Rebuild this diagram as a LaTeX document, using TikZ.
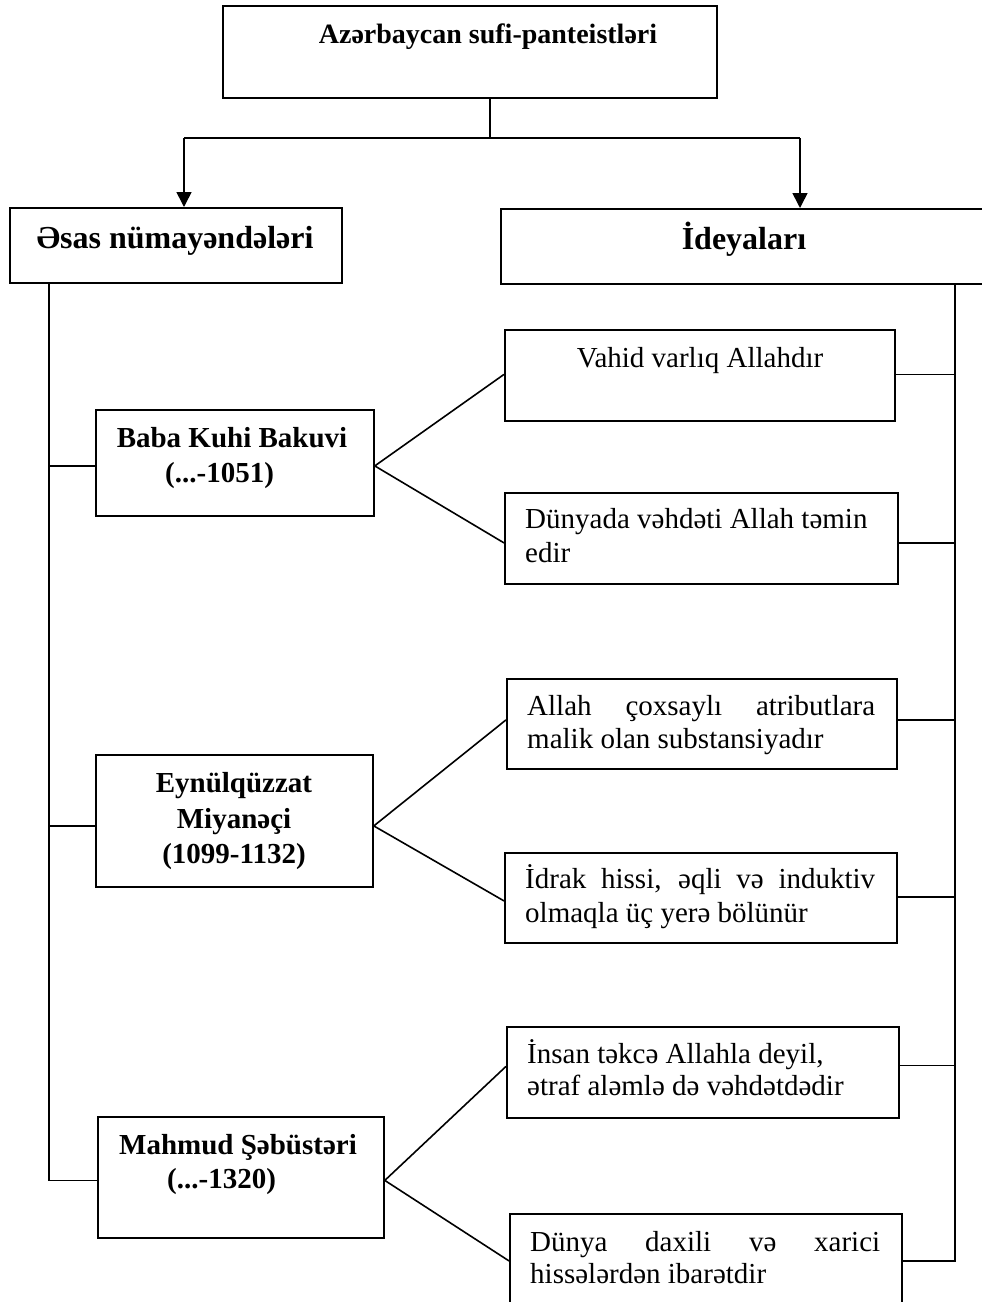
\documentclass[tikz,border=0pt]{standalone}
\usepackage{fontspec}
\setmainfont{Liberation Serif}
\usetikzlibrary{arrows.meta}
\begin{document}
\begin{tikzpicture}[x=1pt,y=-1pt,
  box/.style={draw, line width=1.8pt, inner sep=0pt, anchor=north west},
  conn/.style={line width=1.6pt},
  arr/.style={line width=1.6pt, -{Triangle[length=15pt,width=15pt]}},
  ttl/.style={font=\fontsize{28}{32}\selectfont\bfseries, anchor=base, inner sep=0pt},
  hd/.style={font=\fontsize{32}{36}\selectfont\bfseries, anchor=base, inner sep=0pt},
  nm/.style={font=\fontsize{29}{34}\selectfont\bfseries, anchor=base, inner sep=0pt},
  nmw/.style={font=\fontsize{29}{34}\selectfont\bfseries, anchor=base west, inner sep=0pt},
  tx/.style={font=\fontsize{29}{34}\selectfont, anchor=base west, inner sep=0pt},
  txc/.style={font=\fontsize{29}{34}\selectfont, anchor=base, inner sep=0pt}]
\clip (0,0) rectangle (982,1302);
\fill[white] (0,0) rectangle (982,1302);

% boxes
\node[box, minimum width=494pt, minimum height=92pt] (top) at (222,5) {};
\node[box, minimum width=332pt, minimum height=75pt] (lh) at (9,207) {};
\node[box, minimum width=520pt, minimum height=75pt] (rh) at (500,208) {};
\node[box, minimum width=278pt, minimum height=106pt] (bk) at (95,409) {};
\node[box, minimum width=277pt, minimum height=132pt] (ey) at (95,754) {};
\node[box, minimum width=286pt, minimum height=121pt] (mh) at (97,1116) {};
\node[box, minimum width=390pt, minimum height=91pt] (id1) at (504,329) {};
\node[box, minimum width=393pt, minimum height=91pt] (id2) at (504,492) {};
\node[box, minimum width=390pt, minimum height=90pt] (id3) at (506,678) {};
\node[box, minimum width=392pt, minimum height=90pt] (id4) at (504,852) {};
\node[box, minimum width=392pt, minimum height=91pt] (id5) at (506,1026) {};
\node[box, minimum width=392pt, minimum height=94pt] (id6) at (509,1213) {};

% texts
\node[ttl] (tt) at (488,43) {Azərbaycan sufi-panteistləri};
\node[hd] (lht) at (175,248) {Əsas nümayəndələri};
\node[hd] (rht) at (744,249) {İdeyaları};

\node[nm] (bk1) at (232,447) {Baba Kuhi Bakuvi};
\node[nmw] (bk2) at (165,482) {(...-1051)};
\node[nm] (ey1) at (234,792) {Eynülqüzzat};
\node[nm] (ey2) at (234,828) {Miyanəçi};
\node[nm] (ey3) at (234,863) {(1099-1132)};
\node[nm] (mh1) at (238,1154) {Mahmud Şəbüstəri};
\node[nmw] (mh2) at (167,1188) {(...-1320)};

\node[txc] (i1a) at (700,367) {Vahid varlıq Allahdır};
\node[tx] (i2a) at (525,528) {Dünyada vəhdəti Allah təmin};
\node[tx] (i2b) at (525,562) {edir};
\node[tx] (i3a) at (527,715) {\makebox[348pt][s]{Allah çoxsaylı atributlara}};
\node[tx] (i3b) at (527,748) {malik olan substansiyadır};
\node[tx] (i4a) at (525,888) {\makebox[350pt][s]{İdrak hissi, əqli və induktiv}};
\node[tx] (i4b) at (525,922) {olmaqla üç yerə bölünür};
\node[tx] (i5a) at (527,1063) {İnsan təkcə Allahla deyil,};
\node[tx] (i5b) at (527,1095) {ətraf aləmlə də vəhdətdədir};
\node[tx] (i6a) at (530,1251) {\makebox[350pt][s]{Dünya daxili və xarici}};
\node[tx] (i6b) at (530,1283) {hissələrdən ibarətdir};

% top connectors
\coordinate (j) at (490,138);
\coordinate (jl) at (184,138);
\coordinate (jr) at (800,138);
\draw[conn] (j |- top.south) -- (j);
\draw[conn] (jl) -- (jr);
\draw[arr] (jl) -- (jl |- lh.north);
\draw[arr] (jr) -- (jr |- rh.north);

% left spine
\coordinate (sp) at (49,0);
\coordinate (bkw) at ([yshift=-3pt]bk.west);
\coordinate (eyw) at ([yshift=-5pt]ey.west);
\coordinate (mhw) at ([yshift=-3pt]mh.west);
\draw[conn] (sp |- lh.south) -- (sp |- mhw) -- (mhw);
\draw[conn] (sp |- bkw) -- (bkw);
\draw[conn] (sp |- eyw) -- (eyw);

% fan connectors
\coordinate (bke) at ([yshift=-3pt]bk.east);
\coordinate (eye) at ([yshift=-5pt]ey.east);
\coordinate (mhe) at ([yshift=-3pt]mh.east);
\coordinate (id1w) at ([yshift=1pt]id1.west);
\coordinate (id2w) at ([yshift=-4.5pt]id2.west);
\coordinate (id3w) at ([yshift=4pt]id3.west);
\coordinate (id4w) at ([yshift=-3pt]id4.west);
\coordinate (id5w) at ([yshift=6pt]id5.west);
\draw[conn] (id1w) -- (bke) -- (id2w);
\draw[conn] (id3w) -- (eye) -- (id4w);
\draw[conn] (id5w) -- (mhe) -- (id6.west);

% right spine
\coordinate (rs) at (955,0);
\coordinate (id1e) at ([yshift=1pt]id1.east);
\coordinate (id2e) at ([yshift=-4.5pt]id2.east);
\coordinate (id3e) at ([yshift=4pt]id3.east);
\coordinate (id4e) at ([yshift=1pt]id4.east);
\coordinate (id5e) at ([yshift=7pt]id5.east);
\draw[conn] (rs |- rh.south) -- (rs |- id6.east) -- (id6.east);
\draw[conn] (id1e) -- (rs |- id1e);
\draw[conn] (id2e) -- (rs |- id2e);
\draw[conn] (id3e) -- (rs |- id3e);
\draw[conn] (id4e) -- (rs |- id4e);
\draw[conn] (id5e) -- (rs |- id5e);
\end{tikzpicture}
\end{document}
